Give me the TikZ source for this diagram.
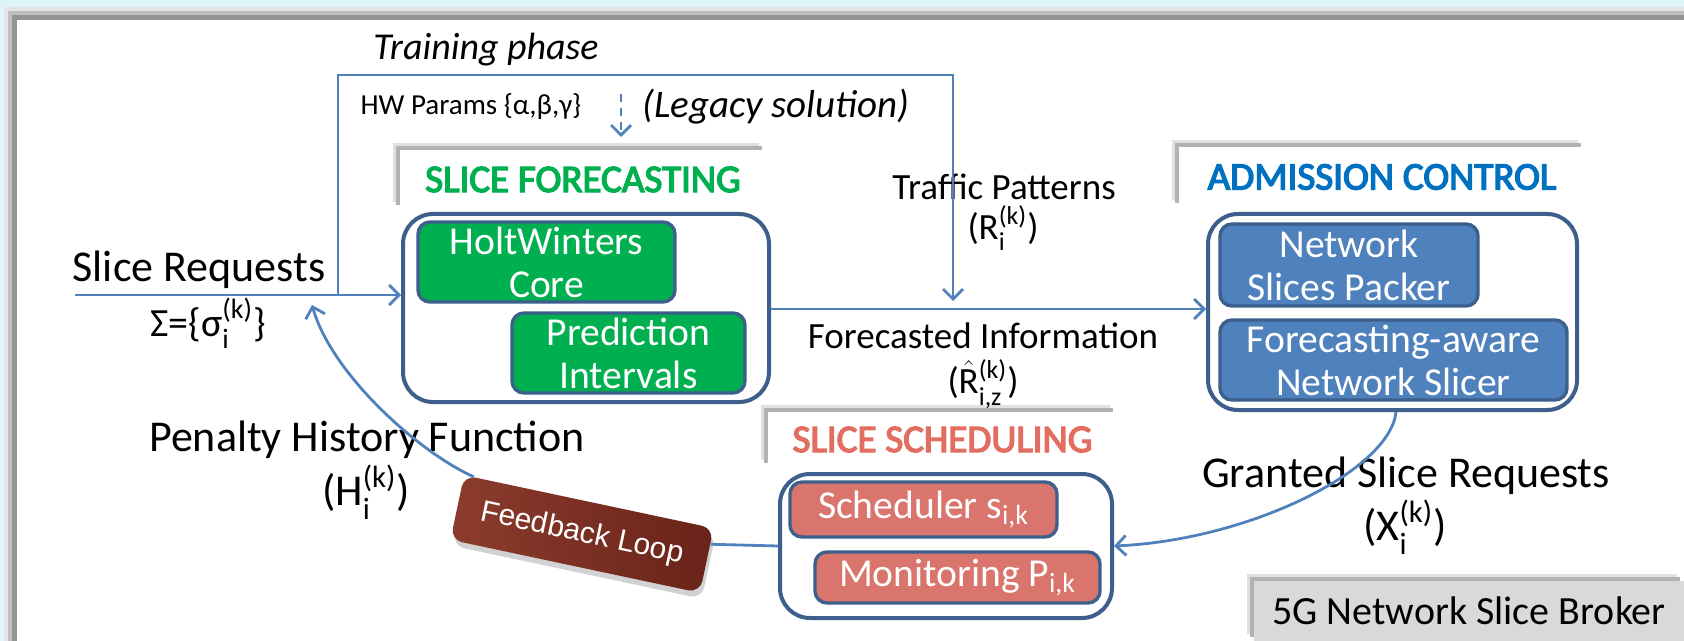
\documentclass[tikz,border=0pt]{standalone}
\usepackage{fontspec}
\usepackage{amsmath}
\setmainfont{Carlito}
\newfontfamily\titlefont{Carlito}[FakeBold=3.5]
\newfontfamily\arialf{Liberation Sans}
\usetikzlibrary{arrows.meta,shadows,calc}

\definecolor{bgcyan}{RGB}{222,244,250}
\definecolor{lineblue}{RGB}{79,129,189}
\definecolor{boxborder}{RGB}{60,95,140}
\definecolor{fgreen}{RGB}{0,176,80}
\definecolor{tblue}{RGB}{0,112,192}
\definecolor{tred}{RGB}{226,110,98}
\definecolor{salmon}{RGB}{217,117,108}
\definecolor{bfill}{RGB}{79,129,189}
\definecolor{greybox}{RGB}{217,217,217}
\definecolor{fbA}{RGB}{140,60,45}
\definecolor{fbB}{RGB}{105,35,25}

\begin{document}
\begin{tikzpicture}[x=0.5pt,y=-0.5pt,
 conn/.style={draw=lineblue, line width=1.4pt},
 arr/.style={conn, -{Straight Barb[length=5pt,width=10pt,line width=1.4pt]}},
 outerbox/.style={draw=boxborder, line width=2pt, rounded corners=15pt, fill=white, inner sep=0pt},
 innerbox/.style={draw=boxborder, line width=1.7pt, rounded corners=6pt, text=white, align=center, inner sep=0pt, font=\fontsize{19.8}{21.5}\selectfont},
 softshadow/.style={
   general shadow={fill=black!12, shadow xshift=-3.5pt, shadow yshift=3.5pt},
   general shadow={fill=black!30, shadow xshift=-2pt, shadow yshift=2pt}},
 titlebox/.style={fill=white, inner sep=0pt, font=\titlefont\fontsize{19.5}{22}\selectfont, softshadow},
 lbl/.style={inner sep=0pt, align=center, font=\fontsize{22}{25}\selectfont},
 mlbl/.style={inner sep=0pt, align=center, font=\fontsize{18.5}{21}\selectfont},
]
\useasboundingbox (0,0) rectangle (1684,641);
% background panel
\fill[bgcyan] (0,0) rectangle (1684,641);
\fill[black!10] (4,7) rectangle (1684,641);
\fill[black!25] (8,11) rectangle (1684,641);
\fill[black!42] (12,15) rectangle (1684,641);
\fill[white] (17,20) rectangle (1684,641);

% Slice forecasting
\node[titlebox, text=fgreen, minimum width=183pt, minimum height=29.5pt] (fct) at (583,179.5) {SLICE FORECASTING};
\node[outerbox, minimum width=183pt, minimum height=94pt] (fc) at (586,308) {};
\node[innerbox, fill=fgreen, minimum width=128.5pt, minimum height=40pt] (hw) at (546.5,262) {HoltWinters\\Core};
\node[innerbox, fill=fgreen, minimum width=116.5pt, minimum height=40pt] (pi) at (628.5,353) {Prediction\\Intervals};

% Admission control
\node[titlebox, text=tblue, minimum width=203pt, minimum height=30pt] (act) at (1382,177) {ADMISSION CONTROL};
\node[outerbox, minimum width=184.5pt, minimum height=98pt] (ac) at (1392.5,312) {};
\node[innerbox, fill=bfill, minimum width=129pt, minimum height=41pt] (nsp) at (1349,265) {Network\\Slices Packer};
\node[innerbox, fill=bfill, minimum width=173.5pt, minimum height=40pt] (fns) at (1393.5,360) {Forecasting-aware\\Network Slicer};

% Slice scheduling
\node[titlebox, text=tred, minimum width=174.5pt, minimum height=27.5pt] (sct) at (942.5,439.5) {SLICE SCHEDULING};
\node[outerbox, minimum width=166pt, minimum height=72pt] (sc) at (946,546) {};
\node[innerbox, fill=salmon, minimum width=133.5pt, minimum height=27.5pt] (sch) at (923.5,509.5) {Scheduler s$_{\text{i,k}}$};
\node[innerbox, fill=salmon, minimum width=142.5pt, minimum height=25.5pt] (mon) at (957.5,577.5) {Monitoring P$_{\text{i,k}}$};

% Broker label
\node[fill=greybox, minimum width=215pt, minimum height=30pt, inner sep=0pt, softshadow,
   font=\fontsize{20}{22}\selectfont] (brk) at (1469,611) {5G Network Slice Broker};

% Feedback loop
\node[rotate=-12, minimum width=127.5pt, minimum height=33pt, rounded corners=6pt,
   left color=fbA, right color=fbB, text=white, font=\arialf\fontsize{15}{18}\selectfont,
   drop shadow={shadow xshift=1pt, shadow yshift=-3pt, opacity=0.35}] (fb) at (582,534) {Feedback Loop};

% labels
\node[lbl] (srq) at (199,270) {Slice Requests};
\node[lbl, font=\fontsize{20}{23}\selectfont] (sig) at (208,323) {Σ=\{σ$_{\text{i}}^{\text{(k)}}$\}};
\node[lbl] (phf) at (367,440) {Penalty History Function};
\node[lbl] (hik) at (366,492) {(H$_{\text{i}}^{\text{(k)}}$)};
\node[lbl] (gsr) at (1406,476) {Granted Slice Requests};
\node[lbl] (xik) at (1405,527) {(X$_{\text{i}}^{\text{(k)}}$)};
\node[mlbl] (tp) at (1004,187) {Traffic Patterns};
\node[mlbl] (rik) at (1003,228) {(R$_{\text{i}}^{\text{(k)}}$)};
\node[mlbl] (fi) at (983,336) {Forecasted Information};
\node[mlbl] (rhat) at (983,384) {($\hat{\text{R}}{}_{\text{i,z}}^{\text{(k)}}$)};
\node[inner sep=0pt, font=\itshape\fontsize{19}{22}\selectfont] (tph) at (486,50) {Training phase};
\node[inner sep=0pt, font=\fontsize{14.5}{17}\selectfont] (hwp) at (471,107) {HW Params \{α,β,γ\}};
\node[inner sep=0pt, font=\itshape\fontsize{19.5}{22}\selectfont] (leg) at (776,107) {(Legacy solution)};

% connectors
\coordinate (srs) at (75,295);
\coordinate (tj) at (338,295);
\coordinate (tl) at (338,75);
\coordinate (tr) at (953,75);
\coordinate (tpend) at (953,301);
\coordinate (fl) at (953,309);
\coordinate (hwtop) at (621,94);
\coordinate (hwbot) at (621,137);
\coordinate (acx) at (1396,0);
\coordinate (tip) at (312,305);

\draw[arr] (srs) -- (srs -| fc.west);
\draw[arr] (tj) -- (tl) -- (tr) -- (tpend);
\draw[arr] (fc.east |- fl) -- (ac.west |- fl);
\draw[arr, dash pattern=on 4pt off 3pt] (hwtop) -- (hwbot);
\draw[arr] (acx |- ac.south) .. controls (1390,470) and (1250,540) .. (sc.east);
\draw[conn] (sc.west) -- ($(fb.north east)!0.25!(fb.south east)$);
\coordinate (sfb) at ($(fb.north west)!0.04!(fb.north east)$);
\draw[arr] (sfb) .. controls (420,453) and (332,375) .. (tip);
\end{tikzpicture}
\end{document}
